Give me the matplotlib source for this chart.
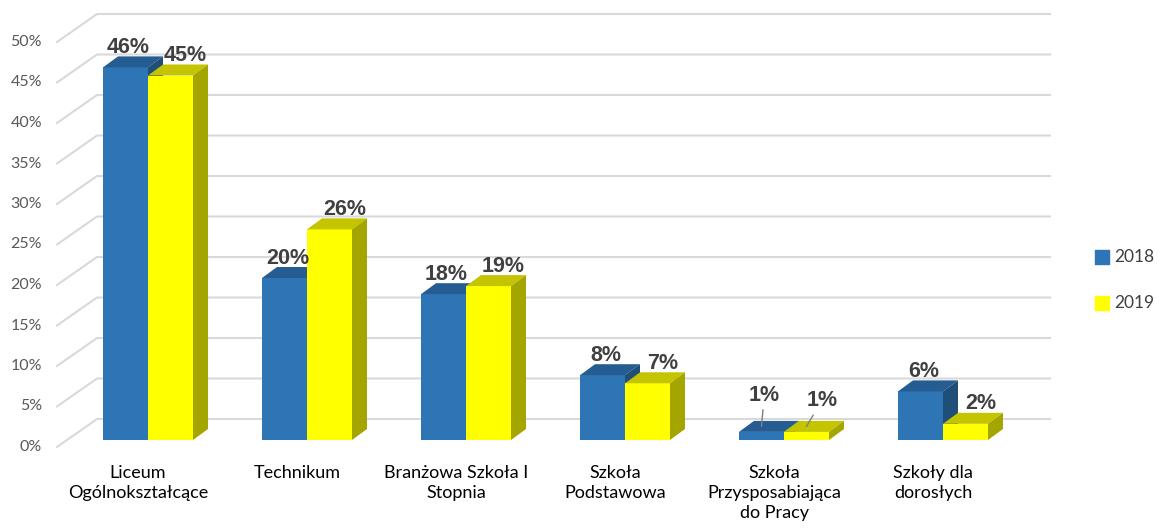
import matplotlib.pyplot as plt
from matplotlib.patches import Polygon

# dane
categories = ['Liceum\nOgólnokształcące', 'Technikum', 'Branżowa Szkoła I\nStopnia',
              'Szkoła\nPodstawowa', 'Szkoła\nPrzysposabiająca\ndo Pracy', 'Szkoły dla\ndorosłych']
values_2018 = [46, 20, 18, 8, 1, 6]
values_2019 = [45, 26, 19, 7, 1, 2]
series_names = ['2018', '2019']
ticks = [0, 5, 10, 15, 20, 25, 30, 35, 40, 45, 50]

# kolory (front, top, side)
colors_2018 = ('#2E75B6', '#255C91', '#1F4E79')
colors_2019 = ('#FFFF00', '#C4C400', '#A5A500')

W, H = 1159, 529
PX_X = 159.0   # px na kategorie
PX_Y = 8.1     # px na 1%
X0, Y0 = 148, 440  # pozycja kategorii 0 i poziomu 0% w px

def px2x(px):
    return (px - X0) / PX_X

bar_w = 45 / PX_X
depth_x = 15 / PX_X
depth_y = 11 / PX_Y
front_dx, front_dy = -10 / PX_X, -7 / PX_Y
back_dy = 28 / PX_Y
label_dx = [3 / PX_X, 15 / PX_X]   # przesuniecie etykiet wartosci

fig = plt.figure(figsize=(W / 100, H / 100), dpi=100)
ax = fig.add_axes([0, 0, 1, 1])
ax.set_xlim(px2x(0), px2x(W))
ax.set_ylim(-(H - Y0) / PX_Y, Y0 / PX_Y)
ax.axis('off')

# siatka (sciana tylna)
gx_front, gx_back, gx_end = px2x(57), px2x(97), px2x(1050)
for t in ticks:
    yf = t + front_dy
    yb = yf + back_dy
    ax.plot([gx_front, gx_back, gx_end], [yf, yb, yb], color='#D9D9D9', lw=1.5, zorder=1)
    ax.text(px2x(42), yf, f'{t}%', ha='right', va='center', fontsize=11.5,
            color='#595959', family='Lato')


def draw_bar(x, v, cols):
    f, t, s = cols
    ax.bar(x, v, width=bar_w, align='edge', color=f, zorder=3)
    top = [(x, v), (x + bar_w, v), (x + bar_w + depth_x, v + depth_y), (x + depth_x, v + depth_y)]
    side = [(x + bar_w, 0), (x + bar_w + depth_x, depth_y), (x + bar_w + depth_x, v + depth_y), (x + bar_w, v)]
    ax.add_patch(Polygon(top, closed=True, color=t, zorder=3, lw=0))
    ax.add_patch(Polygon(side, closed=True, color=s, zorder=3, lw=0))


lbl_kw = dict(fontsize=15.5, fontweight='bold', color='#404040', family='Liberation Sans',
              ha='center', va='bottom', zorder=5)

for i, cat in enumerate(categories):
    for j, (vals, cols) in enumerate([(values_2018, colors_2018), (values_2019, colors_2019)]):
        x = i - bar_w + j * bar_w
        v = vals[i]
        draw_bar(x, v, cols)
        if v <= 1:
            # etykiety z linia odniesienia
            if j == 0:
                ax.annotate(f'{v}%', xy=(x + bar_w * 0.5, v + depth_y * 0.5),
                            xytext=(2, 15), textcoords='offset points',
                            arrowprops=dict(arrowstyle='-', color='#7F7F7F', lw=1,
                                            shrinkA=1, shrinkB=0),
                            **lbl_kw)
            else:
                ax.annotate(f'{v}%', xy=(x + bar_w * 0.5, v + depth_y * 0.5),
                            xytext=(11, 11), textcoords='offset points',
                            arrowprops=dict(arrowstyle='-', color='#7F7F7F', lw=1,
                                            shrinkA=1, shrinkB=0),
                            **lbl_kw)
        else:
            ax.text(x + bar_w / 2 + label_dx[j], v + depth_y - 0.2, f'{v}%', **lbl_kw)
    ax.text(i + front_dx, -25 / PX_Y, cat, ha='center', va='top', fontsize=13,
            color='black', family='Lato', linespacing=1.3)

# legenda
for k, (name, cols) in enumerate(zip(series_names, [colors_2018, colors_2019])):
    ly = (Y0 - (257 + 46 * k)) / PX_Y
    ax.scatter([px2x(1102)], [ly], marker='s', s=100, color=cols[0], zorder=5)
    ax.text(px2x(1114), ly, name, ha='left', va='center', fontsize=12.5,
            color='#404040', family='Lato')

fig.savefig('out.png', dpi=100)
